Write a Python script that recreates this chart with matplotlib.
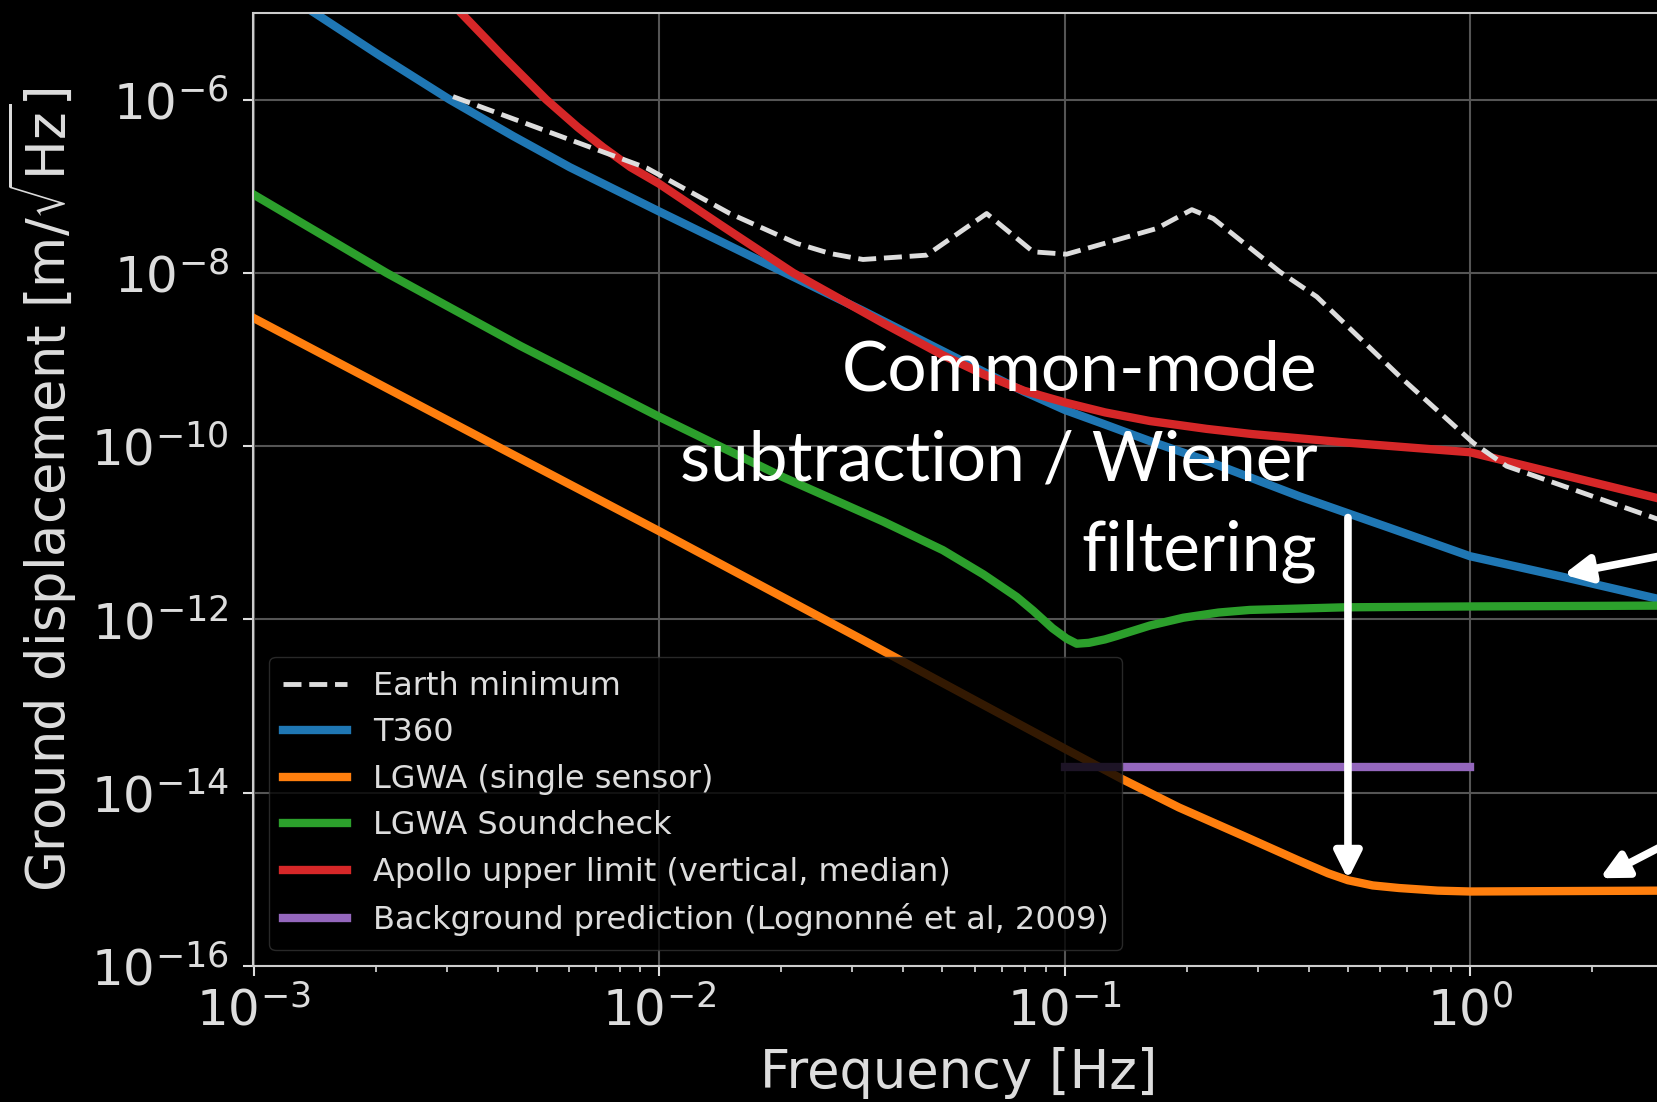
import numpy as np
import matplotlib
matplotlib.use('Agg')
import matplotlib.pyplot as plt
from matplotlib.ticker import FixedLocator, NullLocator, LogFormatterMathtext

# values as log10(frequency), log10(displacement)
earth_lf = [-2.508, -2.03, -1.825, -1.66, -1.578, -1.497, -1.34, -1.192, -1.077, -0.995,
            -0.773, -0.686, -0.633, -0.469, -0.378, -0.173, 0.008, 0.09, 0.48]
earth_ly = [-5.965, -6.79, -7.315, -7.66, -7.776, -7.845, -7.795, -7.315, -7.757, -7.784,
            -7.488, -7.27, -7.373, -7.987, -8.275, -9.196, -9.962, -10.23, -10.87]

t360_lf = [-3.0, -2.849, -2.689, -2.516, -2.36, -2.22, -2.0, -1.768, -1.5, -1.2, -1.1,
           -1.0, -0.9, -0.79, -0.66, -0.42, -0.2, 0.0, 0.24, 0.48]
t360_ly = [-4.55, -5.0, -5.49, -6.0, -6.42, -6.78, -7.29, -7.82, -8.43, -9.14, -9.37,
           -9.58, -9.75, -9.94, -10.15, -10.58, -10.94, -11.27, -11.52, -11.78]

lgwa_lf = [-3.0, -2.4, -2.0, -1.5, -1.0, -0.859, -0.718, -0.558, -0.424, -0.35, -0.301,
           -0.24, -0.175, -0.08, 0.0, 0.48]
lgwa_ly = [-8.52, -10.0, -10.98, -12.23, -13.49, -13.84, -14.17, -14.5, -14.78, -14.93, -15.01,
           -15.07, -15.10, -15.13, -15.14, -15.13]

sound_lf = [-3.0, -2.672, -2.343, -2.0, -1.693, -1.447, -1.3, -1.2, -1.118, -1.077, -1.03,
            -0.995, -0.97, -0.94, -0.90, -0.871, -0.789, -0.707, -0.62, -0.543, -0.311, 0.0, 0.48]
sound_ly = [-7.095, -8.0, -8.84, -9.66, -10.36, -10.87, -11.2, -11.48, -11.74, -11.9, -12.1,
            -12.22, -12.28, -12.27, -12.23, -12.19, -12.07, -11.98, -11.92, -11.89, -11.86, -11.85, -11.84]

apollo_lf = [-2.56, -2.488, -2.385, -2.278, -2.2, -2.138, -2.07, -2.0, -1.85, -1.669, -1.447,
             -1.3, -1.2, -1.1, -0.995, -0.9, -0.789, -0.65, -0.538, -0.3, 0.0, 0.48]
apollo_ly = [-4.63, -5.0, -5.50, -6.0, -6.32, -6.55, -6.78, -6.97, -7.44, -8.0, -8.58,
             -8.95, -9.17, -9.36, -9.50, -9.61, -9.71, -9.80, -9.86, -9.96, -10.07, -10.62]

bg_f = [0.1, 1.0]
bg_y = [2e-14, 2e-14]

labels = ['Earth minimum', 'T360', 'LGWA (single sensor)', 'LGWA Soundcheck',
          'Apollo upper limit (vertical, median)', 'Background prediction (Lognonné et al, 2009)']

def unlog(a):
    return 10.0 ** np.array(a)

plt.style.use('dark_background')
fig = plt.figure(figsize=(16.58, 11.02), dpi=100)
ax = fig.add_axes([253.5 / 1658, 1 - 966 / 1102, 1410 / 1658, 953 / 1102])

lw = 6
ax.plot(unlog(earth_lf), unlog(earth_ly), ls='--', color='#dddddd', lw=3.5, label=labels[0], zorder=4)
ax.plot(unlog(t360_lf), unlog(t360_ly), color='tab:blue', lw=lw, label=labels[1])
ax.plot(unlog(lgwa_lf), unlog(lgwa_ly), color='tab:orange', lw=lw, label=labels[2])
ax.plot(unlog(sound_lf), unlog(sound_ly), color='tab:green', lw=lw, label=labels[3])
ax.plot(unlog(apollo_lf), unlog(apollo_ly), color='tab:red', lw=lw, label=labels[4])
ax.plot(bg_f, bg_y, color='tab:purple', lw=lw, label=labels[5])

ax.set_xscale('log')
ax.set_yscale('log')
ax.set_xlim(1e-3, 3)
ax.set_ylim(1e-16, 1e-5)
ax.yaxis.set_major_locator(FixedLocator([1e-16, 1e-14, 1e-12, 1e-10, 1e-8, 1e-6]))
ax.yaxis.set_major_formatter(LogFormatterMathtext())
ax.yaxis.set_minor_locator(NullLocator())

txtc = '#dddddd'
ax.grid(True, which='major', color='#555555', lw=1.5)
ax.tick_params(which='major', labelsize=36, length=7, width=1.5, colors=txtc)
ax.tick_params(which='minor', length=4, width=1.2, colors=txtc)
ax.tick_params(axis='y', which='major', pad=10.7)
ax.tick_params(axis='x', which='major', pad=7.5)
for s in ax.spines.values():
    s.set_color('#cccccc')
    s.set_linewidth(1.5)

ax.set_xlabel('Frequency [Hz]', fontsize=38, color=txtc, labelpad=8)
ax.set_ylabel(r'Ground displacement [m/$\sqrt{\mathrm{Hz}}$]', fontsize=38, color=txtc, labelpad=8.5)

leg = ax.legend(loc='lower left', fontsize=23, framealpha=0.8, facecolor='black',
                edgecolor='#333333', labelcolor=txtc, handlelength=2.0,
                labelspacing=0.485, borderpad=0.43, handletextpad=0.8)

ax.text(0.42, 3.7e-12, 'Common-mode\nsubtraction / Wiener\nfiltering', fontsize=50,
        family='Lato', color='white', ha='right', va='baseline', linespacing=1.53)

arrow = dict(arrowstyle='-|>', color='white', lw=5.5, mutation_scale=40, shrinkA=0, shrinkB=0)
ax.annotate('', xy=(0.5, 1e-15), xytext=(0.5, 1.5e-11), arrowprops=arrow)
ax.annotate('', xy=(1.7, 3.3e-12), xytext=(6.5, 1.1e-11), arrowprops=arrow, annotation_clip=False)
ax.annotate('', xy=(2.09, 1.03e-15), xytext=(6.5, 1.6e-14), arrowprops=arrow, annotation_clip=False)

fig.savefig('out.png', dpi=100, facecolor='black')
